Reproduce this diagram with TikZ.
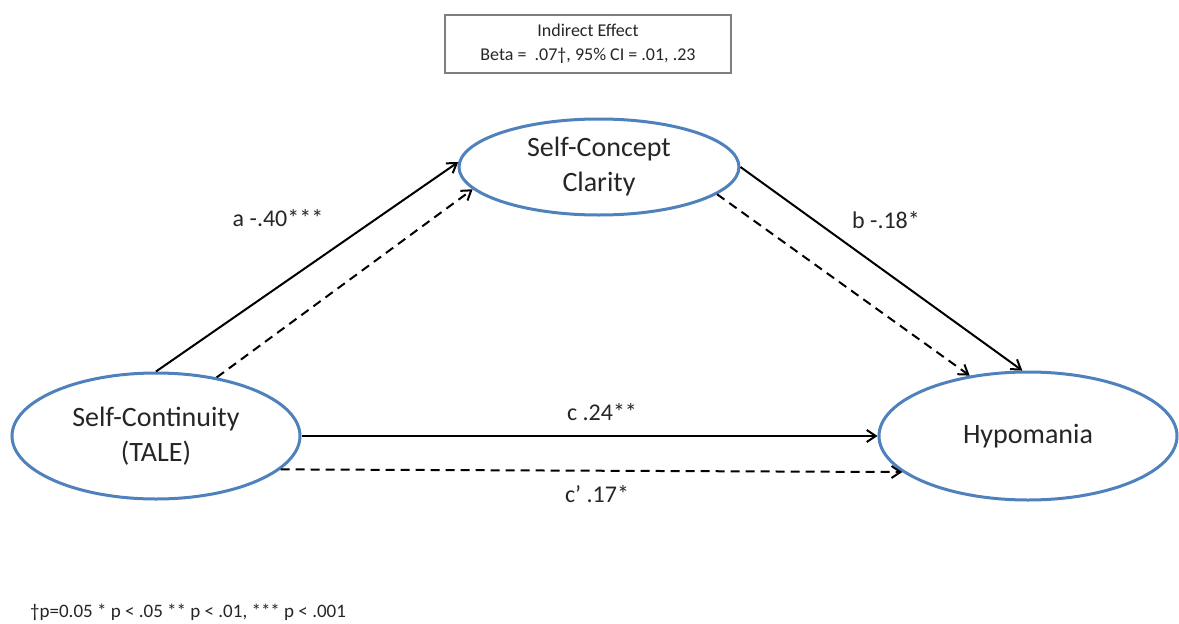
\documentclass[tikz,border=0pt]{standalone}
\usepackage{fontspec}
\setmainfont{Carlito}
\usetikzlibrary{shapes.geometric,arrows.meta}
\definecolor{ellblue}{HTML}{4F81BD}
\definecolor{txt}{HTML}{262626}
\definecolor{boxgray}{HTML}{7F7F7F}
\begin{document}
\begin{tikzpicture}[x=1pt,y=-1pt,
  var/.style={ellipse,draw=ellblue,line width=3pt,inner sep=0pt,align=center,
    text=txt,font=\fontsize{28}{35}\selectfont},
  path/.style={line width=2pt,-{Straight Barb[length=9pt,width=12pt,line width=2pt]}},
  dpath/.style={path,dash pattern=on 9pt off 6pt},
  lab/.style={text=txt,font=\fontsize{24}{28}\selectfont,inner sep=0pt},
]
\useasboundingbox (0,0) rectangle (1179,624);
\fill[white] (0,0) rectangle (1179,624);

\node[draw=boxgray,line width=1.5pt,minimum width=286pt,minimum height=58pt,inner sep=0pt,
  align=center,text=txt,font=\fontsize{18}{24}\selectfont] (ie) at (588,44)
  {Indirect Effect\\Beta =\ \ .07†, 95\% CI = .01, .23};

\node[var,minimum width=280pt,minimum height=96pt] (M) at (599,167) {Self-Concept\\Clarity};
\node[var,minimum width=288pt,minimum height=126pt] (X) at (156,436) {Self-Continuity\\(TALE)};
\node[var,minimum width=298pt,minimum height=128pt] (Y) at (1028,436) {Hypomania};

\draw[path] (X.90) -- (M.178);
\draw[dpath] (X.44) -- (M.190);
\draw[path] (M.0) -- (Y.95);
\draw[dpath] (M.-13) -- (Y.134);
\draw[path] (X.east) -- (Y.west);
\draw[dpath] (X.-15) -- (Y.196);

\node[lab] (la) at (278,218) {a -.40***};
\node[lab] (lb) at (886,220) {b -.18*};
\node[lab] (lc) at (602,412) {c .24**};
\node[lab] (lcp) at (597,494) {c’ .17*};

\node[anchor=west,inner sep=0pt,text=txt,font=\fontsize{19}{22}\selectfont] (fn) at (30,612)
  {†p=0.05 * p < .05 ** p < .01, *** p < .001};
\end{tikzpicture}
\end{document}
